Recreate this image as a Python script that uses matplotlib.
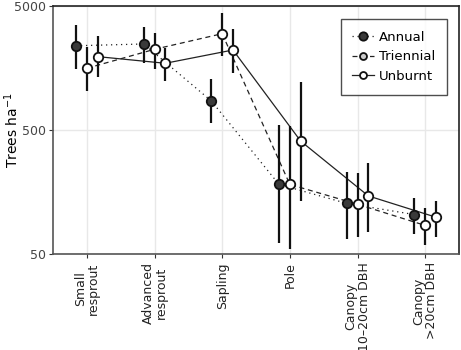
import matplotlib
matplotlib.use("Agg")
import matplotlib.pyplot as plt
import numpy as np
from matplotlib.lines import Line2D

categories = ["Small\nresprout", "Advanced\nresprout", "Sapling", "Pole",
              "Canopy\n10\u201320cm DBH", "Canopy\n>20cm DBH"]

annual = [2390, 2470, 857, 182, 128, 104]
annual_lo = [1542, 1726, 566, 61, 66, 73]
annual_hi = [3515, 3365, 1282, 548, 231, 142]

triennial = [1573, 2238, 2990, 182, 126, 85]
triennial_lo = [1032, 1552, 1976, 55, 68, 59]
triennial_hi = [2322, 3047, 4365, 535, 224, 118]

unburnt = [1953, 1726, 2209, 407, 147, 99]
unburnt_lo = [1338, 1242, 1450, 134, 75, 69]
unburnt_hi = [2880, 2280, 3264, 1227, 269, 135]

fig = plt.figure(figsize=(4.61, 3.5), dpi=100)
ax = fig.add_axes([53/461, 1-254/350, (459-53)/461, (254-6)/350])

x = np.arange(len(categories))
dotted = (0, (1, 3))
dashed = (0, (4, 3))
series = [
    ("Annual", annual, annual_lo, annual_hi, -0.16, dotted, "#3a3a3a"),
    ("Triennial", triennial, triennial_lo, triennial_hi, 0.0, dashed, "white"),
    ("Unburnt", unburnt, unburnt_lo, unburnt_hi, 0.16, "-", "white"),
]

handles = []
for name, v, lo, hi, off, ls, fc in series:
    xs = x + off
    v = np.array(v); lo = np.array(lo); hi = np.array(hi)
    ax.plot(xs, v, ls=ls, color="#222222", lw=0.9, zorder=2)
    ax.vlines(xs, lo, hi, color="#111111", lw=1.6, zorder=3)
    ax.plot(xs, v, ls="none", marker="o", ms=6.8, mfc=fc, mec="#111111",
            mew=1.3, zorder=4)
    handles.append(Line2D([0], [0], ls=ls, color="#222222", lw=0.9,
                          marker="o", ms=5 if name != "Annual" else 6,
                          mfc=("#cccccc" if name == "Triennial" else fc),
                          mec="#111111", mew=1.3, label=name))

ax.set_yscale("log")
ax.set_ylim(50, 5000)
ax.set_xlim(-0.5, 5.5)
ax.set_yticks([50, 500, 5000])
ax.set_yticklabels(["50", "500", "5000"])
ax.yaxis.set_minor_locator(matplotlib.ticker.NullLocator())
ax.set_xticks(x)
ax.set_xticklabels(categories, rotation=90, va="top", ha="center",
                   fontsize=9, color="#222222", linespacing=1.0)
ax.tick_params(axis="y", labelsize=9, labelcolor="#444444", length=3,
               color="#333333", pad=2)
ax.tick_params(axis="x", length=3, color="#333333", pad=3)
ax.set_ylabel("Trees ha$^{-1}$", fontsize=10)
ax.yaxis.set_label_coords(-0.078, 0.5)

ax.grid(True, which="major", color="#e8e8e8", lw=1.0)
ax.set_axisbelow(True)
for s in ["top", "right"]:
    ax.spines[s].set_color("#222222")
    ax.spines[s].set_linewidth(1.2)
for s in ["left", "bottom"]:
    ax.spines[s].set_color("#555555")
    ax.spines[s].set_linewidth(1.2)

leg = ax.legend(handles=handles, loc="upper right",
                bbox_to_anchor=(447/461, 1-19/350),
                bbox_transform=fig.transFigure, borderaxespad=0,
                fontsize=9.5, frameon=True, fancybox=False,
                handlelength=1.6, handletextpad=0.4,
                borderpad=0.9, labelspacing=0.5)
leg.get_frame().set_edgecolor("#222222")
leg.get_frame().set_linewidth(1.0)

fig.savefig("out.png", dpi=100)
